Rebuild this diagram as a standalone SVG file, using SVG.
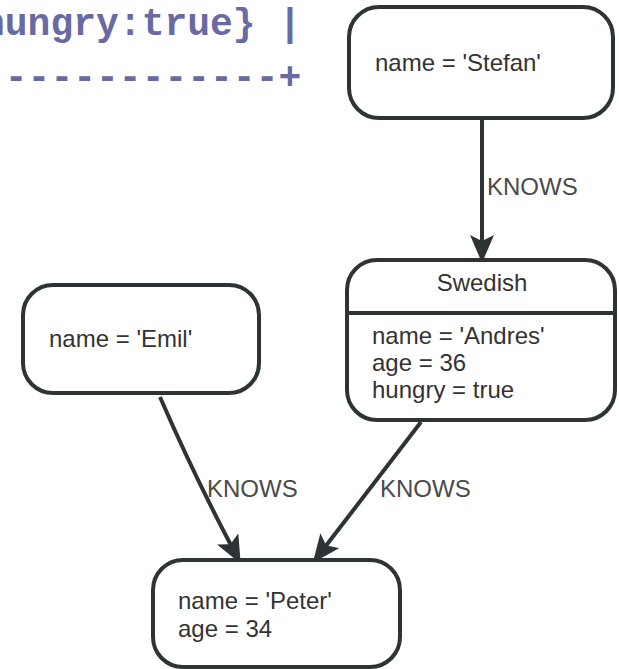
<svg xmlns="http://www.w3.org/2000/svg" width="619" height="669" viewBox="0 0 619 669">
  <style>
    .node rect { fill: #ffffff; stroke: #2e3436; stroke-width: 4; }
    .node line { stroke: #2e3436; stroke-width: 4; }
    .node text { font-family: "Liberation Sans", Arial, sans-serif; font-size: 24px; fill: #333333; }
    .edge path { fill: none; stroke: #2e3436; stroke-width: 4; }
    .label { font-family: "Liberation Sans", Arial, sans-serif; font-size: 24px; fill: #4a4a4a; }
    .ascii { font-family: "Liberation Mono", "Courier New", monospace; font-size: 38px; font-weight: bold; fill: #6a6aa2; }
  </style>
  <defs>
    <marker id="head" markerUnits="userSpaceOnUse" viewBox="0 0 28 24" markerWidth="28" markerHeight="24" refX="8" refY="12" orient="auto">
      <path d="M0,0 L28,12 L0,24 L6,12 z" fill="#2e3436"/>
    </marker>
  </defs>

  <rect width="619" height="669" fill="#ffffff"/>

  <!-- tail of the query result table -->
  <g id="ascii-table">
    <text class="ascii" x="-18" y="35" xml:space="preserve">hungry:true} |</text>
    <text class="ascii" x="-18" y="89">-------------+</text>
  </g>

  <!-- relationships -->
  <g id="edges">
    <g class="edge" id="e-stefan-andres">
      <path d="M482,118 L482,243" marker-end="url(#head)"/>
      <text class="label" x="487" y="195">KNOWS</text>
    </g>
    <g class="edge" id="e-emil-peter">
      <path d="M160,397 Q193,473 231.4,546" marker-end="url(#head)"/>
      <text class="label" x="207" y="497">KNOWS</text>
    </g>
    <g class="edge" id="e-andres-peter">
      <path d="M421,422 L325,547" marker-end="url(#head)"/>
      <text class="label" x="380" y="497">KNOWS</text>
    </g>
  </g>

  <!-- nodes -->
  <g class="node" id="n-stefan">
    <rect x="349" y="7" width="264" height="111" rx="30" ry="30"/>
    <text x="375" y="71">name = 'Stefan'</text>
  </g>

  <g class="node" id="n-andres">
    <rect x="347" y="260" width="268" height="160" rx="30" ry="30"/>
    <line x1="347" y1="313" x2="615" y2="313"/>
    <text x="482" y="291" text-anchor="middle">Swedish</text>
    <text x="372" y="344">name = 'Andres'</text>
    <text x="372" y="371">age = 36</text>
    <text x="372" y="398">hungry = true</text>
  </g>

  <g class="node" id="n-emil">
    <rect x="23" y="285" width="236" height="108" rx="30" ry="30"/>
    <text x="49" y="347">name = 'Emil'</text>
  </g>

  <g class="node" id="n-peter">
    <rect x="153" y="560" width="247" height="107" rx="30" ry="30"/>
    <text x="178" y="609">name = 'Peter'</text>
    <text x="178" y="637">age = 34</text>
  </g>
</svg>
